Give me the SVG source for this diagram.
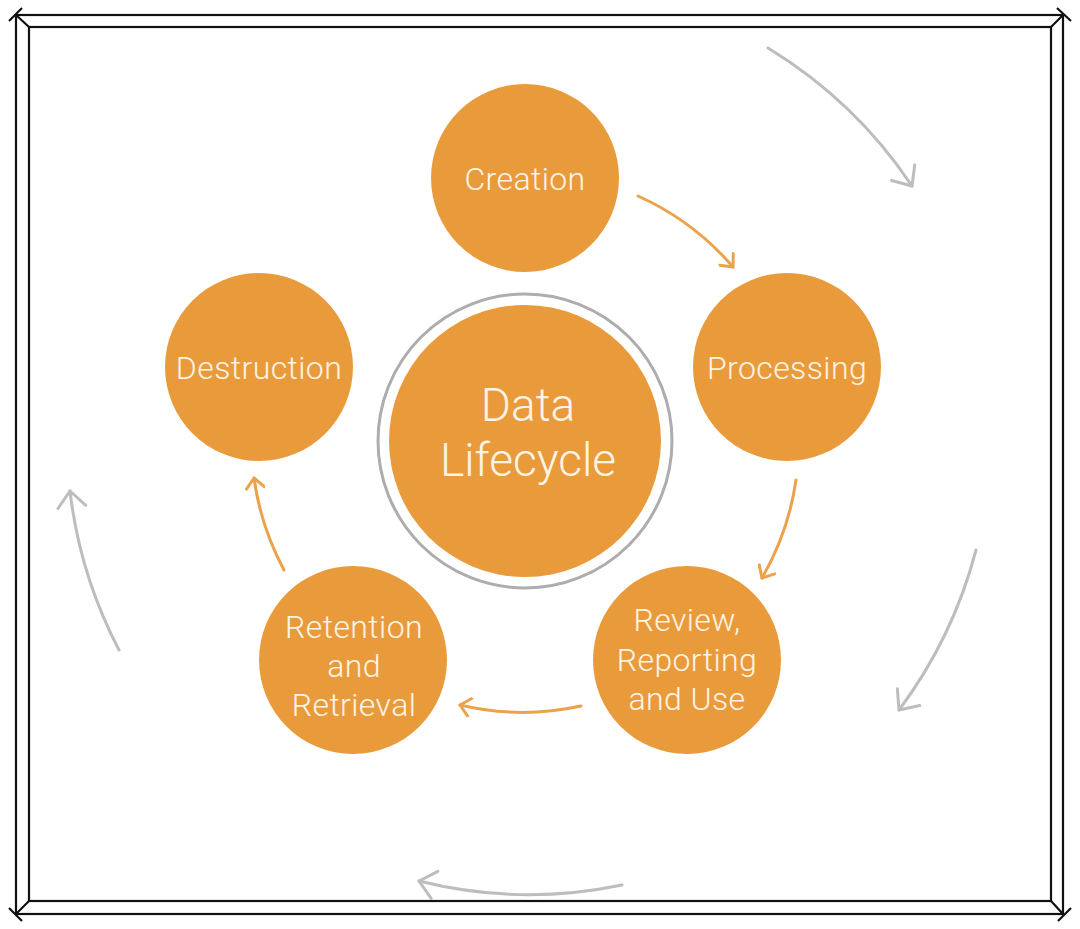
<svg xmlns="http://www.w3.org/2000/svg" width="1080" height="929" viewBox="0 0 1080 929">
<style>
.node{fill:#E99B3C}
.lbl{font-family:Roboto,"Liberation Sans",sans-serif;font-weight:300;fill:#FDF4E6;text-anchor:middle}
.s{font-size:32px;letter-spacing:0.4px}
.b{font-size:46px}
.frame{fill:none;stroke:#111;stroke-width:2.2}
.oa{fill:none;stroke:#EBA24B;stroke-width:3;stroke-linecap:round}
.ga{fill:none;stroke:#BDBDBD;stroke-width:3;stroke-linecap:round}
</style>
<defs>
<marker id="ho" viewBox="-14 -10 16 20" markerWidth="16" markerHeight="20" refX="0" refY="0" orient="auto" markerUnits="userSpaceOnUse">
<path d="M-10,-9 L0,0 L-10,9" fill="none" stroke="#EBA24B" stroke-width="3" stroke-linecap="round" stroke-linejoin="round"/>
</marker>
<marker id="hg" viewBox="-20 -16 22 32" markerWidth="22" markerHeight="32" refX="0" refY="0" orient="auto" markerUnits="userSpaceOnUse">
<path d="M-16,-14 L0,0 L-16,14" fill="none" stroke="#BDBDBD" stroke-width="3" stroke-linecap="round" stroke-linejoin="round"/>
</marker>
</defs>
<rect width="1080" height="929" fill="#fff"/>
<g id="frame">
<rect class="frame" x="16" y="15" width="1047" height="899"/>
<rect class="frame" x="29" y="27" width="1022" height="874"/>
<path class="frame" d="M16,15 L29,27 M1063,15 L1051,27 M16,914 L29,901 M1063,914 L1051,901"/>
<path class="frame" d="M9,21 L22,8 M1057,8 L1071,21 M9,908 L22,921 M1058,921 L1071,908"/>
</g>
<g id="connectors">
<path class="oa" marker-end="url(#ho)" d="M638,196 A272,272 0 0 1 733,267"/>
<path class="oa" marker-end="url(#ho)" d="M796,480 A274,274 0 0 1 762,578"/>
<path class="oa" marker-end="url(#ho)" d="M581,706 A272,272 0 0 1 460,705"/>
<path class="oa" marker-end="url(#ho)" d="M284,570 A274,274 0 0 1 254,478"/>
<path class="ga" marker-end="url(#hg)" d="M768,48 A462,462 0 0 1 912,186"/>
<path class="ga" marker-end="url(#hg)" d="M976,550 A462,462 0 0 1 899,710"/>
<path class="ga" marker-end="url(#hg)" d="M622,885 A455,455 0 0 1 419,881"/>
<path class="ga" marker-end="url(#hg)" d="M119,650 A458,458 0 0 1 70,491"/>
</g>
<g id="center">
<circle cx="525" cy="441" r="147" fill="none" stroke="#ADADAD" stroke-width="3"/>
<circle class="node" cx="525" cy="441" r="136"/>
<text class="lbl b" x="528" y="421">Data</text>
<text class="lbl b" x="528" y="476">Lifecycle</text>
</g>
<g id="creation">
<circle class="node" cx="525" cy="178" r="94"/>
<text class="lbl s" x="525" y="190">Creation</text>
</g>
<g id="processing">
<circle class="node" cx="787" cy="367" r="94"/>
<text class="lbl s" x="787" y="379">Processing</text>
</g>
<g id="review">
<circle class="node" cx="687" cy="660" r="94"/>
<text class="lbl s" x="687" y="631">Review,</text>
<text class="lbl s" x="687" y="671">Reporting</text>
<text class="lbl s" x="687" y="710">and Use</text>
</g>
<g id="retention">
<circle class="node" cx="353" cy="660" r="94"/>
<text class="lbl s" x="354" y="638">Retention</text>
<text class="lbl s" x="354" y="677">and</text>
<text class="lbl s" x="354" y="716">Retrieval</text>
</g>
<g id="destruction">
<circle class="node" cx="259" cy="367" r="94"/>
<text class="lbl s" x="259" y="379">Destruction</text>
</g>
</svg>
